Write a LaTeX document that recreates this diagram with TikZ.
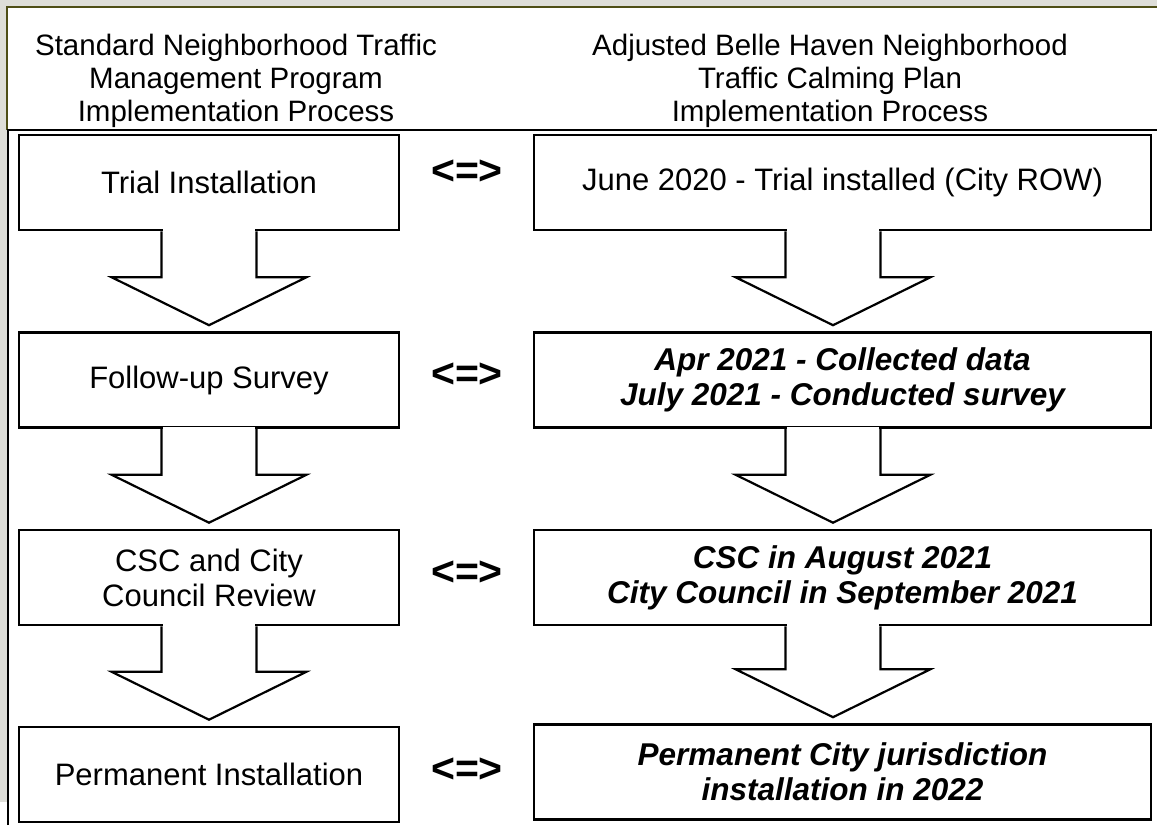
\documentclass[tikz,border=0pt]{standalone}
\usepackage{fontspec}
\setmainfont{Liberation Sans}
\usetikzlibrary{calc}

\definecolor{pagegray}{RGB}{222,222,216}
\definecolor{frameolive}{RGB}{78,78,22}

\tikzset{
  stepbox/.style={draw, line width=2.6pt, minimum width=380pt, minimum height=95pt, inner sep=0pt, align=center, font=\fontsize{31}{35}\selectfont},
  planbox/.style={stepbox, minimum width=617pt},
  planbold/.style={planbox, font=\fontsize{31.5}{35}\selectfont\bfseries\itshape},
  headtext/.style={align=center, inner sep=0pt, font=\fontsize{29.5}{33}\selectfont},
  swaptext/.style={inner sep=0pt, font=\fontsize{41}{44}\selectfont\bfseries},
  blockline/.style={line width=2.2pt, line join=miter}
}

% block arrow from box #1 down to box #2, shifted by #3
\newcommand{\blockdown}[3]{%
  \fill[white] ($(#1.south)+(#3-46,-2)$) rectangle ($(#1.south)+(#3+46,2)$);
  \draw[blockline] ($(#1.south)+(#3-47.5,0)$) -- ($(#2.north)+(#3-47.5,-54)$)
    -- ($(#2.north)+(#3-97.5,-54)$) -- ($(#2.north)+(#3,-6)$)
    -- ($(#2.north)+(#3+97.5,-54)$) -- ($(#2.north)+(#3+47.5,-54)$)
    -- ($(#1.south)+(#3+47.5,0)$);
}

\begin{document}
\begin{tikzpicture}[x=1pt,y=-1pt]
   \useasboundingbox (0,0) rectangle (1157,825);
   %page
   \fill[pagegray] (0,0) rectangle (1157,825);
   \fill[white] (7,7) rectangle (1157,825);
   \fill[white] (0,802) rectangle (7,825);
   \draw[frameolive, line width=2.4pt] (7,130) -- (7,7) -- (1157,7);
   \draw[line width=2.8pt] (8,825) -- (8,130) -- (1157,130);

   %headers
   \node[headtext] (hstd) at (236,81) {Standard Neighborhood Traffic\\Management Program\\Implementation Process};
   \node[headtext] (hadj) at (830,81) {Adjusted Belle Haven Neighborhood\\Traffic Calming Plan\\Implementation Process};

   %standard process
   \node[stepbox] (trial) at (209,182.5) {Trial Installation};
   \node[stepbox] (survey) at (209,380) {Follow-up Survey};
   \node[stepbox] (review) at (209,577.5) {CSC and City\\Council Review};
   \node[stepbox] (perm) at (209,774.5) {Permanent Installation};

   %adjusted plan
   \node[planbox] (ptrial) at (842.5,182.5) {June 2020 - Trial installed (City ROW)};
   \node[planbold] (psurvey) at (842.5,380) {Apr 2021 - Collected data\\July 2021 - Conducted survey};
   \node[planbold] (preview) at (842.5,577.5) {CSC in August 2021\\City Council in September 2021};
   \node[planbold] (pperm) at (842.5,772) {Permanent City jurisdiction\\installation in 2022};

   %equivalences
   \node[swaptext] (eq1) at (467,172) {<=>};
   \node[swaptext] (eq2) at (467,375) {<=>};
   \node[swaptext] (eq3) at (467,573) {<=>};
   \node[swaptext] (eq4) at (467,770) {<=>};

   %arrows
   \blockdown{trial}{survey}{0}
   \blockdown{survey}{review}{0}
   \blockdown{review}{perm}{0}
   \blockdown{ptrial}{psurvey}{-9.5}
   \blockdown{psurvey}{preview}{-9.5}
   \blockdown{preview}{pperm}{-9.5}
\end{tikzpicture}
\end{document}
